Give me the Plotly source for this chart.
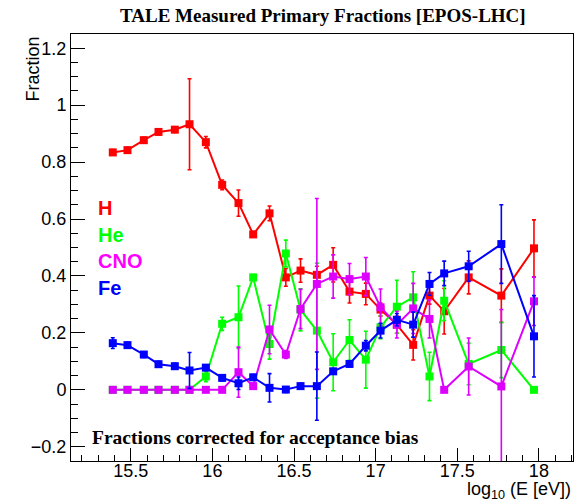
import plotly.graph_objects as go

# ---- data ----
log_e = [15.39, 15.48, 15.58, 15.67, 15.77, 15.86, 15.96, 16.06, 16.16, 16.25,
         16.35, 16.45, 16.54, 16.64, 16.74, 16.84, 16.94, 17.03, 17.13, 17.23,
         17.33, 17.42, 17.57, 17.77, 17.97]

h_frac = [0.834, 0.842, 0.877, 0.906, 0.914, 0.933, 0.870, 0.720, 0.656, 0.546,
          0.620, 0.395, 0.419, 0.404, 0.439, 0.345, 0.337, 0.282, 0.229, 0.158,
          0.331, 0.276, 0.395, 0.331, 0.497]
h_err = [0.01, 0.01, 0.01, 0.01, 0.01, 0.16, 0.02, 0.017, 0.046, 0.01,
         0.026, 0.031, 0.041, 0.03, 0.06, 0.04, 0.038, 0.023, 0.03, 0.053,
         0.03, 0.08, 0.058, 0.094, 0.10]

he_frac = [0.0, 0.0, 0.0, 0.0, 0.0, 0.0, 0.047, 0.232, 0.255, 0.395,
           0.161, 0.479, 0.281, 0.208, 0.097, 0.175, 0.106, 0.220, 0.292, 0.325,
           0.047, 0.313, 0.091, 0.140, 0.0]
he_err = [0.0, 0.0, 0.0, 0.0, 0.0, 0.0, 0.018, 0.023, 0.11, 0.01,
          0.053, 0.047, 0.074, 0.237, 0.10, 0.071, 0.10, 0.04, 0.093, 0.09,
          0.085, 0.07, 0.073, 0.097, 0.0]

cno_frac = [0.0, 0.0, 0.0, 0.0, 0.0, 0.0, 0.0, 0.0, 0.062, 0.013,
            0.212, 0.124, 0.284, 0.372, 0.398, 0.389, 0.398, 0.290, 0.229, 0.286,
            0.249, 0.0, 0.082, 0.012, 0.311]
cno_err = [0.0, 0.0, 0.0, 0.0, 0.0, 0.0, 0.0, 0.0, 0.088, 0.01,
           0.085, 0.014, 0.069, 0.30, 0.076, 0.055, 0.067, 0.064, 0.047, 0.088,
           0.067, 0.0, 0.10, 0.27, 0.085]

fe_frac = [0.164, 0.157, 0.124, 0.090, 0.083, 0.068, 0.078, 0.042, 0.023, 0.044,
           0.007, 0.001, 0.013, 0.013, 0.065, 0.091, 0.155, 0.208, 0.246, 0.229,
           0.372, 0.409, 0.434, 0.512, 0.188]
fe_err = [0.019, 0.01, 0.01, 0.01, 0.01, 0.063, 0.01, 0.01, 0.022, 0.01,
          0.05, 0.01, 0.01, 0.12, 0.01, 0.01, 0.018, 0.026, 0.022, 0.044,
          0.04, 0.043, 0.053, 0.138, 0.143]

species = ["H", "He", "CNO", "Fe"]
series = [h_frac, he_frac, cno_frac, fe_frac]
errors = [h_err, he_err, cno_err, fe_err]
colors = ["#ff0000", "#00ff00", "#dd00ff", "#0000ff"]
label_colors = ["#ff0000", "#00ff00", "#ff00ff", "#0000ff"]

title_text = "TALE Measured Primary Fractions [EPOS-LHC]"
note_text = "Fractions corrected for acceptance bias"
x_title = "log<sub>10</sub> (E [eV])"
y_title = "Fraction"

fig = go.Figure()
for name, ys, es, c in zip(species, series, errors, colors):
    fig.add_trace(go.Scatter(
        x=log_e, y=ys, name=name, mode="lines+markers",
        line=dict(color=c, width=2),
        marker=dict(symbol="square", size=8, color=c),
        error_y=dict(type="data", array=es, visible=True, color=c,
                     thickness=1.6, width=2),
        showlegend=False, cliponaxis=True,
    ))

sans = "Liberation Sans, Arial, sans-serif"
serif = "Liberation Serif, Times New Roman, serif"

# species labels
label_y = [0.638, 0.545, 0.452, 0.359]
for name, c, yy in zip(species, label_colors, label_y):
    fig.add_annotation(x=15.29, y=yy, xref="x", yref="y", text="<b>%s</b>" % name,
                       showarrow=False, xanchor="left", yanchor="middle",
                       font=dict(family=sans, size=20, color=c))

fig.add_annotation(x=15.25, y=-0.166, xref="x", yref="y", text="<b>%s</b>" % note_text,
                   showarrow=False, xanchor="left", yanchor="middle",
                   font=dict(family=serif, size=19.5, color="black"))

fig.add_annotation(x=1.0, y=-0.068, xref="paper", yref="paper", text=x_title,
                   showarrow=False, xanchor="right", yanchor="middle",
                   font=dict(family=sans, size=18, color="black"))

fig.add_annotation(x=-0.0757, y=1.0, xref="paper", yref="paper", text=y_title,
                   showarrow=False, xanchor="center", yanchor="top", textangle=-90,
                   font=dict(family=sans, size=18, color="black"))

fig.add_annotation(x=0.502, y=1.0, xref="paper", yref="paper", yshift=19, text="<b>%s</b>" % title_text,
                   showarrow=False, xanchor="center", yanchor="middle",
                   font=dict(family=serif, size=19, color="black"))

axis_common = dict(showgrid=False, zeroline=False, showline=True, linecolor="black",
                   linewidth=1, mirror=True, ticks="inside", tickcolor="black",
                   tickfont=dict(family=sans, size=18, color="black"))

fig.update_xaxes(range=[15.134, 18.209], tick0=15.5, dtick=0.5, ticklen=13,
                 ticklabelstandoff=-7,
                 minor=dict(ticks="inside", dtick=0.1, tick0=15.0, ticklen=6, tickcolor="black"),
                 **axis_common)
fig.update_yaxes(range=[-0.25, 1.25], tick0=0, dtick=0.2, ticklen=14,
                 tickformat="~g",
                 minor=dict(ticks="inside", dtick=0.05, tick0=0, ticklen=7, tickcolor="black"),
                 **axis_common)

fig.update_layout(width=583, height=502, autosize=False,
                  margin=dict(l=71, r=10, t=34, b=41),
                  paper_bgcolor="white", plot_bgcolor="white")

fig.write_html("out.html")
